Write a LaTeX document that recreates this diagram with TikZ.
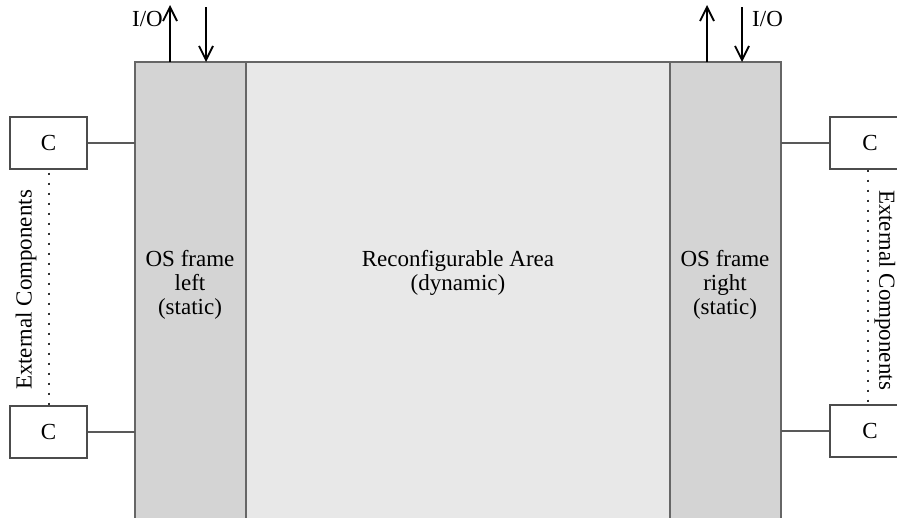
\documentclass[tikz,border=0pt]{standalone}
\usepackage{fontspec}
\setmainfont{Liberation Serif}
\usetikzlibrary{arrows.meta}
\begin{document}
\begin{tikzpicture}[x=1pt,y=-1pt,
  lbl/.style={font=\fontsize{23}{24}\selectfont, align=center, inner sep=0pt},
  area/.style={draw=black!60, line width=1.3pt, anchor=north west, inner sep=0pt, outer sep=0pt},
  staticarea/.style={area, fill=black!17},
  dynarea/.style={area, fill=black!9},
  comp/.style={draw=black!70, line width=1.2pt, fill=white, minimum width=77pt, minimum height=52pt, inner sep=0pt, font=\fontsize{23}{24}\selectfont},
  wire/.style={draw=black!65, line width=1.2pt},
  chain/.style={line width=2pt, dash pattern=on 2pt off 8pt, draw=black!80},
  io/.style={line width=1.8pt, -{Straight Barb[length=14pt,width=14pt]}}
]
\useasboundingbox (0,0) rectangle (897,517);
\clip (0,0) rectangle (897,517);

% FPGA regions
\node[dynarea, minimum width=424pt, minimum height=480pt] (dyn) at (246,62) {};
\node[staticarea, minimum width=111pt, minimum height=480pt] (lf) at (135,62) {};
\node[staticarea, minimum width=111pt, minimum height=480pt] (rf) at (670,62) {};

\node[lbl] (lft) at (190,285) {OS frame\\left\\(static)};
\node[lbl] (dynt) at (458,273) {Reconfigurable Area\\(dynamic)};
\node[lbl] (rft) at (725,285) {OS frame\\right\\(static)};

% external components
\node[comp] (c1) at (48.5,143) {C};
\node[comp] (c2) at (48.5,432) {C};
\node[comp, minimum width=80pt] (c3) at (870,143) {C};
\node[comp, minimum width=80pt] (c4) at (870,431) {C};

\draw[wire] (c1.east) -- (c1.east -| lf.west);
\draw[wire] (c2.east) -- (c2.east -| lf.west);
\draw[wire] (c3.west) -- (c3.west -| rf.east);
\draw[wire] (c4.west) -- (c4.west -| rf.east);

\draw[chain] ([yshift=-3pt]c1.south) -- (c2.north);
\draw[chain] (c3.south -| 868,0) -- (c4.north -| 868,0);

\node[lbl, rotate=90] (extl) at (26,290) {External Components};
\node[lbl, rotate=-90] (extr) at (885,290) {External Components};

% I/O lines
\coordinate (a1) at (170,5);
\coordinate (a2) at (206,7);
\coordinate (a3) at (707,5);
\coordinate (a4) at (742,7);
\draw[io] (a1 |- lf.north) -- (a1);
\draw[io] (a2) -- (a2 |- lf.north);
\draw[io] (a3 |- rf.north) -- (a3);
\draw[io] (a4) -- (a4 |- rf.north);
\node[lbl, anchor=base east] (iol) at (163,26) {I/O};
\node[lbl, anchor=base west] (ior) at (752,26) {I/O};
\end{tikzpicture}
\end{document}
